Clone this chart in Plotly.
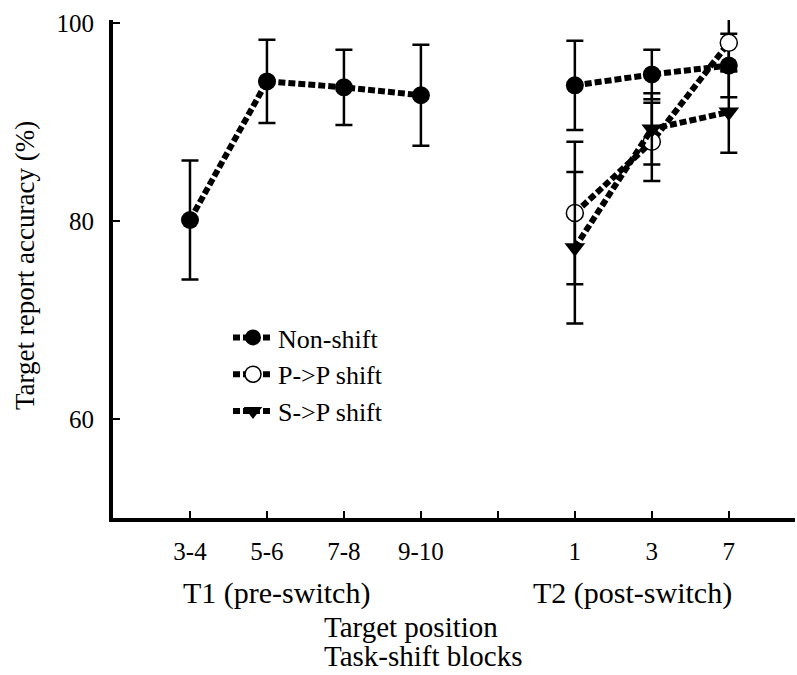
import plotly.graph_objects as go

# ---- data ----
tick_labels = ["3-4", "5-6", "7-8", "9-10", "", "1", "3", "7"]
t1_pos = [0, 1, 2, 3]
t2_pos = [5, 6, 7]

non_shift_t1 = [80.1, 94.1, 93.5, 92.7]
non_shift_t1_err = [6.0, 4.2, 3.8, 5.1]

non_shift_t2 = [93.7, 94.8, 95.7]
non_shift_t2_err = [4.5, 2.5, 3.2]

pp_shift_t2 = [80.8, 88.0, 98.0]
pp_shift_t2_err = [7.2, 3.95, 2.8]

sp_shift_t2 = [77.3, 89.3, 91.0]
sp_shift_t2_err = [7.65, 3.6, 4.1]

FONT = "Liberation Serif, Times New Roman, serif"

# ---- layout geometry (pixels) ----
W, H = 797, 675
ML, MR, MT, MB = 113, 2, 20, 157
PW = W - ML - MR
PH = H - MT - MB


def px_x(px):
    return (px - ML) / PW


def px_y(py):
    return (H - MB - py) / PH


line_style = dict(color="black", width=6, dash="7px,3px")
err_style = dict(type="data", visible=True, color="black", thickness=2.5, width=8.5)

fig = go.Figure()

fig.add_trace(go.Scatter(
    x=t1_pos, y=non_shift_t1, mode="lines+markers", name="Non-shift",
    line=line_style,
    marker=dict(symbol="circle", size=18, color="black"),
    error_y=dict(array=non_shift_t1_err, **err_style),
    legendgroup="ns", showlegend=True,
))
fig.add_trace(go.Scatter(
    x=t2_pos, y=non_shift_t2, mode="lines+markers", name="Non-shift",
    line=line_style,
    marker=dict(symbol="circle", size=18, color="black"),
    error_y=dict(array=non_shift_t2_err, **err_style),
    legendgroup="ns", showlegend=False,
))
fig.add_trace(go.Scatter(
    x=t2_pos, y=pp_shift_t2, mode="lines+markers", name="P->P shift",
    line=line_style,
    marker=dict(symbol="circle", size=17, color="white",
                line=dict(color="black", width=1.5)),
    error_y=dict(array=pp_shift_t2_err, **err_style),
))
fig.add_trace(go.Scatter(
    x=t2_pos, y=sp_shift_t2, mode="lines+markers", name="S->P shift",
    line=line_style,
    marker=dict(symbol="triangle-down", size=18, color="black"),
    error_y=dict(array=sp_shift_t2_err, **err_style),
))

annotations = [
    dict(text="Target report accuracy (%)", x=px_x(25), y=px_y(266), xref="paper", yref="paper",
         textangle=-90, showarrow=False, xanchor="center", yanchor="middle",
         font=dict(family=FONT, size=27, color="black")),
    dict(text="T1 (pre-switch)", x=px_x(276), y=px_y(593), xref="paper", yref="paper",
         showarrow=False, xanchor="center", yanchor="middle",
         font=dict(family=FONT, size=30, color="black")),
    dict(text="T2 (post-switch)", x=px_x(632), y=px_y(593), xref="paper", yref="paper",
         showarrow=False, xanchor="center", yanchor="middle",
         font=dict(family=FONT, size=30, color="black")),
    dict(text="Target position", x=px_x(322), y=px_y(627), xref="paper", yref="paper",
         showarrow=False, xanchor="left", yanchor="middle",
         font=dict(family=FONT, size=29, color="black")),
    dict(text="Task-shift blocks", x=px_x(322), y=px_y(656), xref="paper", yref="paper",
         showarrow=False, xanchor="left", yanchor="middle",
         font=dict(family=FONT, size=29, color="black")),
]

fig.update_layout(
    width=W, height=H,
    margin=dict(l=ML, r=MR, t=MT, b=MB, pad=0),
    paper_bgcolor="white", plot_bgcolor="white",
    font=dict(family=FONT, size=25, color="black"),
    xaxis=dict(
        range=[-1.0, 7.86], tickmode="array", tickvals=list(range(len(tick_labels))),
        ticktext=tick_labels, ticks="inside", ticklen=7, tickwidth=2, tickcolor="black",
        showline=True, linewidth=4, linecolor="black", showgrid=False, zeroline=False,
        ticklabelstandoff=8, tickfont=dict(family=FONT, size=25, color="black"),
    ),
    yaxis=dict(
        range=[50, 100.3], tickmode="array", tickvals=[60, 80, 100],
        ticks="inside", ticklen=7, tickwidth=2, tickcolor="black",
        showline=True, linewidth=4, linecolor="black", showgrid=False, zeroline=False,
        ticklabelstandoff=10, tickfont=dict(family=FONT, size=25, color="black"),
    ),
    legend=dict(
        x=px_x(228), y=px_y(314), xanchor="left", yanchor="top",
        bgcolor="rgba(0,0,0,0)", borderwidth=0,
        font=dict(family=FONT, size=26, color="black"),
        itemwidth=40, tracegroupgap=0,
    ),
    annotations=annotations,
    showlegend=True,
)

fig.write_html("out.html")
